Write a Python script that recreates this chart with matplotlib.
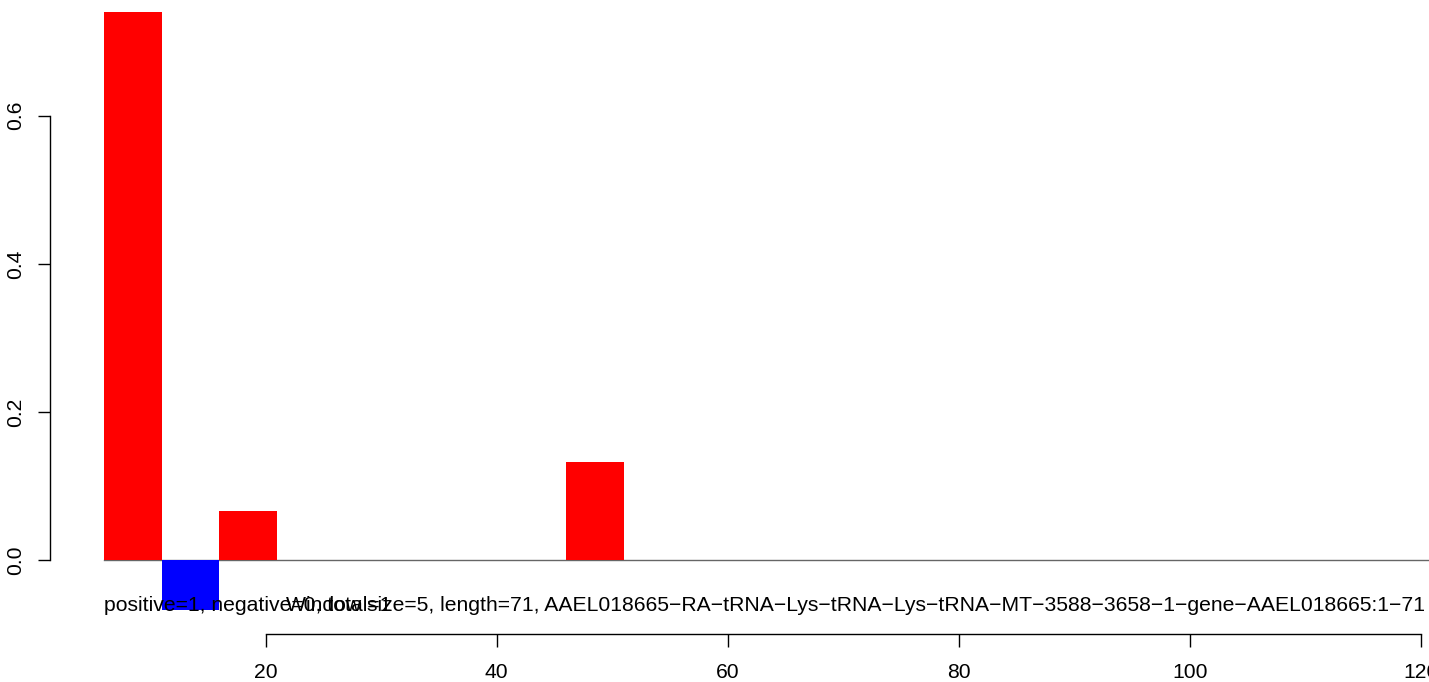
import matplotlib
matplotlib.use("Agg")
import matplotlib.pyplot as plt

# window values (window size 5, bars drawn side by side)
bar_starts = [6, 11, 16, 21, 26, 31, 36, 41, 46, 51, 56, 61, 66, 71, 76]
bar_values = [0.74, -0.0667, 0.0667, 0, 0, 0, 0, 0, 0.1333, 0, 0, 0, 0, 0, 0]
bar_colors = ["red" if v >= 0 else "blue" for v in bar_values]

x_ticks = [20, 40, 60, 80, 100, 120]
y_ticks = [0.0, 0.2, 0.4, 0.6]

label_counts = "positive=1, negative=0, total=1"
label_info = ("Window size=5, length=71, AAEL018665\u2212RA\u2212tRNA\u2212Lys\u2212tRNA\u2212Lys"
              "\u2212tRNA\u2212MT\u22123588\u22123658\u22121\u2212gene\u2212AAEL018665:1\u221271")

plt.rcParams["font.family"] = ["Liberation Sans", "DejaVu Sans"]
fs = 15.25

W, H = 1429, 682
fig = plt.figure(figsize=(W / 100, H / 100), dpi=100)
ax = fig.add_axes([50 / W, (H - 633.5) / H, (W - 50) / W, 633.5 / H])

ax.set_xlim(1.325, 120.72)
ax.set_ylim(-0.0988, 0.7562)

ax.axhline(0, xmin=(6 - 1.325) / (120.72 - 1.325), xmax=1.2, color="#666666", lw=1, zorder=1)
ax.bar(bar_starts, bar_values, width=5, align="edge", color=bar_colors, edgecolor="none", zorder=2)

ax.text(6, -0.068, label_counts, ha="left", va="baseline", fontsize=fs, zorder=3)
ax.text(71.1, -0.068, label_info, ha="center", va="baseline", fontsize=fs, zorder=3)

for s in ["top", "right"]:
    ax.spines[s].set_visible(False)
ax.spines["left"].set_bounds(0, 0.6)
ax.spines["bottom"].set_bounds(20, 120)
ax.spines["left"].set_linewidth(1)
ax.spines["bottom"].set_linewidth(1)

ax.set_xticks(x_ticks)
ax.set_xticklabels([str(t) for t in x_ticks])
ax.set_yticks(y_ticks)
ax.set_yticklabels(["%.1f" % t for t in y_ticks], rotation=90, va="center")
ax.tick_params(axis="both", length=9, width=1, labelsize=fs)
ax.tick_params(axis="x", pad=12)
ax.tick_params(axis="y", pad=9)

fig.savefig("out.png", dpi=100)
